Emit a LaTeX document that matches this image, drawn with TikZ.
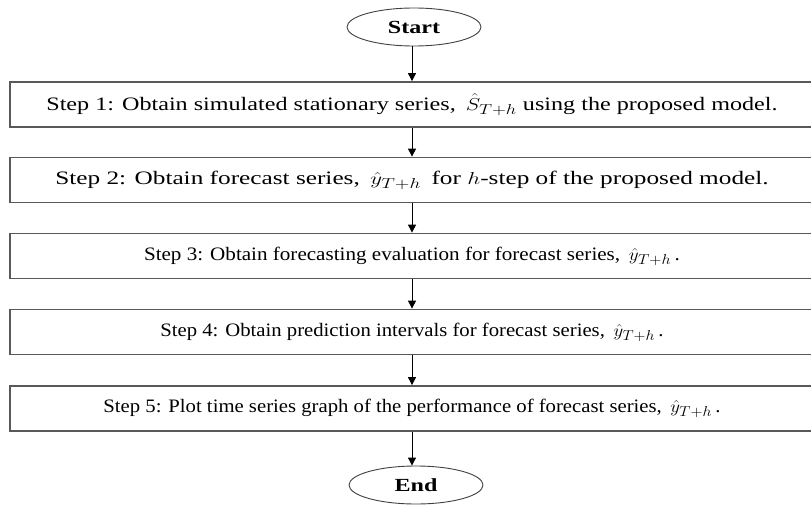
\documentclass[tikz,border=0pt]{standalone}
\usepackage{fontspec}
\setmainfont{Liberation Serif}
\usetikzlibrary{shapes.geometric,arrows.meta}
\begin{document}
\begin{tikzpicture}[x=1pt,y=-1pt,
  term/.style={draw=black!75,line width=0.9pt,ellipse,minimum width=134pt,minimum height=38pt,inner sep=0pt,font=\fontsize{18.5}{20}\selectfont\bfseries},
  stepbox/.style={draw=black!65,line width=1.8pt,rectangle,minimum width=804pt,minimum height=45pt,inner sep=0pt,font=\fontsize{19}{21}\selectfont},
  conn/.style={draw=black,line width=1pt,-{Triangle[length=8pt,width=8pt]}}]
\useasboundingbox (0,0) rectangle (811,506);
\node[term] (start) at (414,27) {\scalebox{1.3}[1]{Start}};
\node[stepbox] (s1) at (412,104.5) {\scalebox{1.27}[1]{Step 1: Obtain simulated stationary series,\, $\hat{S}_{T+h}$ using the proposed model.}};
\node[stepbox] (s2) at (412,180) {\scalebox{1.33}[1]{Step 2: Obtain forecast series,\, $\hat{y}_{T+h}$\, for $h$-step of the proposed model.}};
\node[stepbox] (s3) at (412,256) {\scalebox{1.11}[1]{Step 3: Obtain forecasting evaluation for forecast series,\, $\hat{y}_{T+h}$\,.}};
\node[stepbox] (s4) at (412,332) {\scalebox{1.09}[1]{Step 4: Obtain prediction intervals for forecast series,\, $\hat{y}_{T+h}$\,.}};
\node[stepbox] (s5) at (412,408.5) {\scalebox{1.09}[1]{Step 5: Plot time series graph of the performance of forecast series,\, $\hat{y}_{T+h}$\,.}};
\node[term] (end) at (416,485) {\scalebox{1.3}[1]{End}};
\draw[conn] (start.south -| 412,0) -- (s1.north -| 412,0);
\draw[conn] (s1.south -| 412,0) -- (s2.north -| 412,0);
\draw[conn] (s2.south -| 412,0) -- (s3.north -| 412,0);
\draw[conn] (s3.south -| 412,0) -- (s4.north -| 412,0);
\draw[conn] (s4.south -| 412,0) -- (s5.north -| 412,0);
\draw[conn] (s5.south -| 412,0) -- (end.north -| 412,0);
\end{tikzpicture}
\end{document}
